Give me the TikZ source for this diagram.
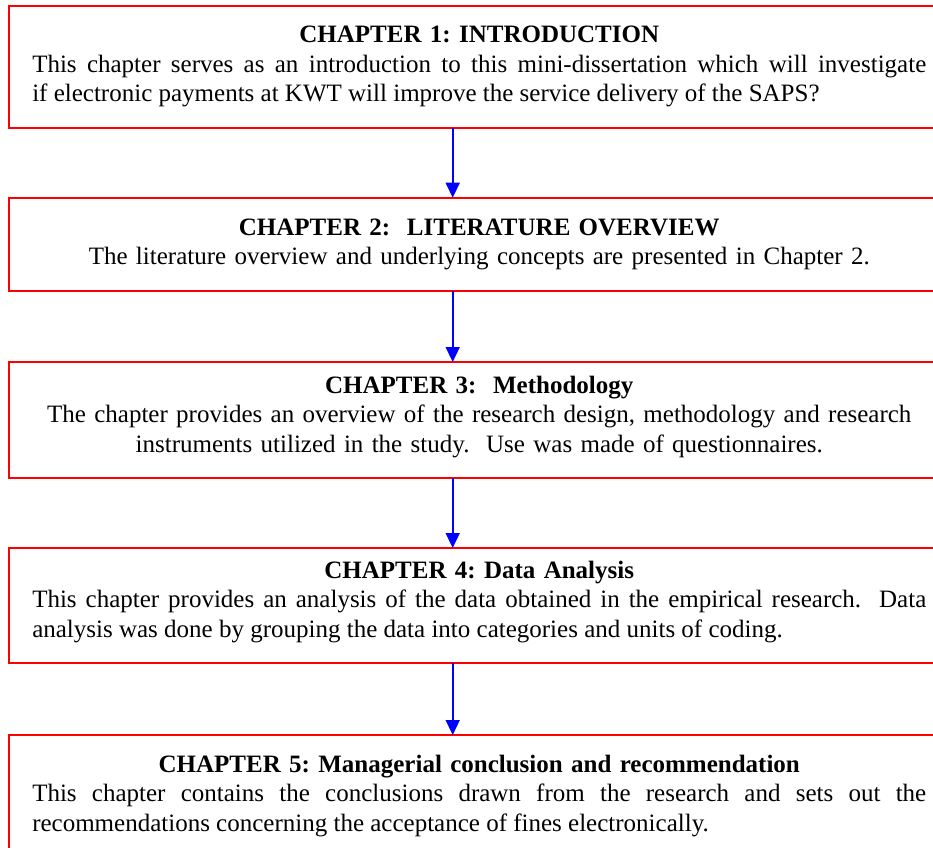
\documentclass[tikz,border=0pt]{standalone}
\usepackage{fontspec}
\setmainfont{Liberation Serif}
\usetikzlibrary{arrows.meta}
\definecolor{boxred}{RGB}{255,0,0}
\definecolor{arrblue}{RGB}{0,0,255}
\setlength{\parindent}{0pt}
\frenchspacing
\newcommand\chaptitle[1]{{\centering\bfseries #1\par}}
\newcommand\lift[1]{\par\nointerlineskip\kern#1\hrule height 0pt width 0pt\relax}
\tikzset{
  chapbox/.style={draw=boxred, line width=2pt, rectangle, text width=894pt,
    inner xsep=23.75pt, inner ysep=0pt, outer sep=0pt, anchor=north west,
    font=\fontsize{25}{29.5}\selectfont\frenchspacing},
  flow/.style={draw=arrblue, line width=1.6pt, -{Triangle[width=14pt,length=15pt]}}
}
\newcommand\justpar{\leftskip=0pt\rightskip=0pt\parfillskip=0pt plus 1fil\spaceskip=.25em plus .5em minus .1em\relax}
\begin{document}
\begin{tikzpicture}[x=1pt,y=-1pt]
\useasboundingbox (0,0) rectangle (933,847);
\clip (0,0) rectangle (933,847);
\coordinate (ax) at (452.7,0);
\node[chapbox, minimum height=121.5pt] (b1) at (8.5,6) {%
  \chaptitle{CHAPTER 1: INTRODUCTION}
  {\justpar This chapter serves as an introduction to this mini-dissertation which will investigate\linebreak
  if electronic payments at KWT will improve the service delivery of the SAPS?\par}};
\node[chapbox, minimum height=93.3pt] (b2) at (8.5,197.7) {%
  \chaptitle{CHAPTER 2:~ LITERATURE OVERVIEW}
  {\centering The literature overview and underlying concepts are presented in Chapter 2.\par}};
\node[chapbox, minimum height=115.5pt] (b3) at (8.5,362) {%
  \chaptitle{CHAPTER 3:~ Methodology}
  {\centering The chapter provides an overview of the research design, methodology and research\\
  instruments utilized in the study.~ Use was made of questionnaires.\par}\lift{6pt}};
\node[chapbox, minimum height=115pt] (b4) at (8.5,548) {%
  \chaptitle{CHAPTER 4: Data Analysis}
  {\justpar This chapter provides an analysis of the data obtained in the empirical research.~ Data\linebreak
  analysis was done by grouping the data into categories and units of coding.\par}\lift{7pt}};
\node[chapbox, minimum height=121.5pt] (b5) at (8.5,735) {%
  \chaptitle{CHAPTER 5: Managerial conclusion and recommendation}
  {\justpar This chapter contains the conclusions drawn from the research and sets out the\linebreak
  recommendations concerning the acceptance of fines electronically.\par}};
\draw[flow] (b1.south -| ax) -- (b2.north -| ax);
\draw[flow] (b2.south -| ax) -- (b3.north -| ax);
\draw[flow] (b3.south -| ax) -- (b4.north -| ax);
\draw[flow] (b4.south -| ax) -- (b5.north -| ax);
\end{tikzpicture}
\end{document}
